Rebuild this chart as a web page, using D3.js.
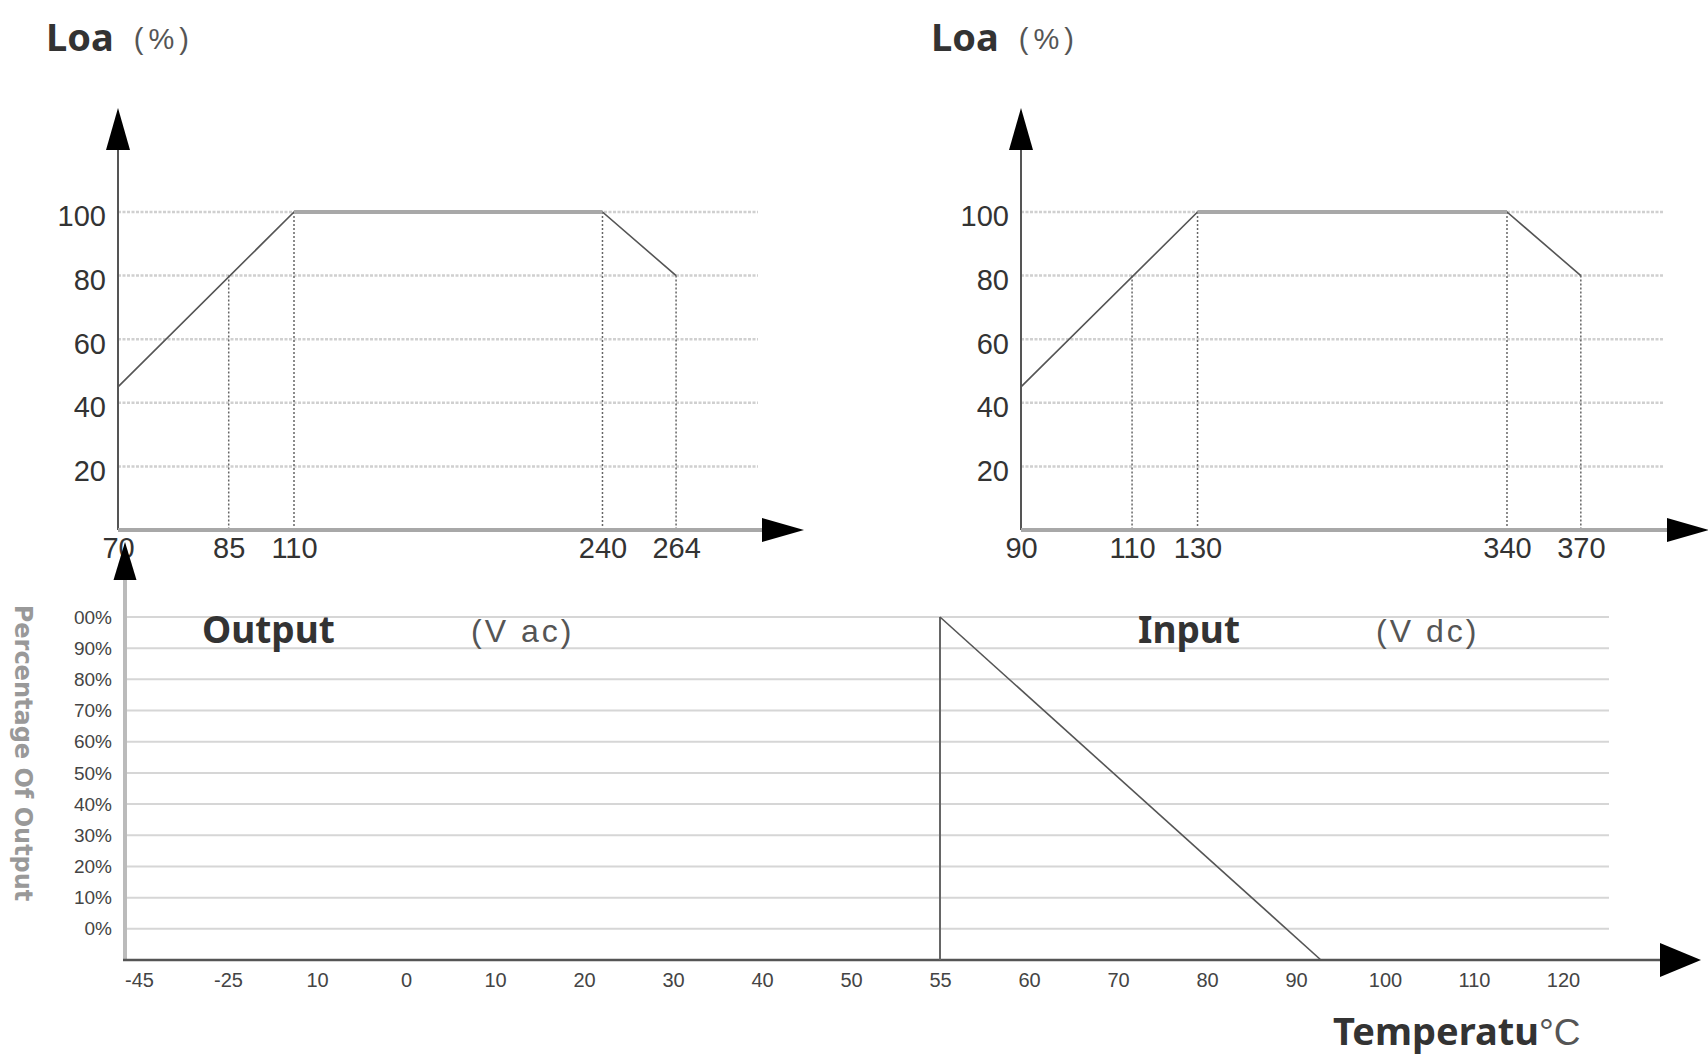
<!DOCTYPE html>
<html>
<head>
<meta charset="utf-8">
<script src="https://cdn.jsdelivr.net/npm/d3@7/dist/d3.min.js"></script>
<style>
  body { margin: 0; background: #fff; }
  .bold { font-family: "Noto Sans", sans-serif; font-weight: 700; fill: #333; }
  .thin { font-family: "Liberation Sans", Arial, sans-serif; fill: #555; }
</style>
</head>
<body>
<div id="chart"></div>
<script>
// load vs input voltage, AC
let acTicks = [70, 85, 110, 240, 264],
    acVolts = [70, 110, 240, 264],
    acLoad  = [45, 100, 100, 80],
    acMark  = [85, 80];

// load vs input voltage, DC
let dcTicks = [90, 110, 130, 340, 370],
    dcVolts = [90, 130, 340, 370],
    dcLoad  = [45, 100, 100, 80],
    dcMark  = [110, 80];

let loadTicks = [20, 40, 60, 80, 100];

// output vs temperature
let tempTicks  = [-45, -25, -10, 0, 10, 20, 30, 40, 50, 55, 60, 70, 80, 90, 100, 110, 120],
    tempLabels = ["-45", "-25", "10", "0", "10", "20", "30", "40", "50", "55", "60", "70", "80", "90", "100", "110", "120"],
    pctTicks   = [100, 90, 80, 70, 60, 50, 40, 30, 20, 10, 0],
    pctLabels  = ["00%", "90%", "80%", "70%", "60%", "50%", "40%", "30%", "20%", "10%", "0%"],
    deratingTemp = [55, 92.8],
    deratingPct  = [100, -10];

let width = 1708,
    height = 1060,
    tickPos = [0, .173, .275, .757, .872]; // schematic spacing of the voltage ticks

let svg = d3.select('#chart').append('svg')
  .attr('width', width)
  .attr('height', height);

function arrow(g, tip, dir, len, half) {
  let p = d3.path();
  if (dir === 'up') {
    p.moveTo(tip[0], tip[1]);
    p.lineTo(tip[0] - half, tip[1] + len);
    p.lineTo(tip[0] + half, tip[1] + len);
  } else {
    p.moveTo(tip[0], tip[1]);
    p.lineTo(tip[0] - len, tip[1] - half);
    p.lineTo(tip[0] - len, tip[1] + half);
  }
  p.closePath();
  g.append('path').attr('d', p.toString()).attr('fill', '#000');
}

function loadChart(x0, gridW, ticks, volts, load, mark, titleX) {
  let g = svg.append('g').attr('transform', 'translate(' + x0 + ',0)');

  let xScale = d3.scaleLinear()
    .domain(ticks)
    .range(tickPos.map(f => f * gridW));
  let yScale = d3.scaleLinear()
    .domain([0, 100])
    .range([530, 212]);

  // dotted grid
  g.selectAll('line.grid').data(loadTicks)
    .enter().append('line')
    .attr('class', 'grid')
    .attr('x1', 0).attr('x2', gridW)
    .attr('y1', d => yScale(d)).attr('y2', d => yScale(d))
    .attr('stroke', '#d0d0d0')
    .attr('stroke-width', 2.5)
    .attr('stroke-dasharray', '3,1.5');

  // drop lines
  let drops = [mark].concat(volts.slice(1).map((v, i) => [v, load[i + 1]]));
  g.selectAll('line.drop').data(drops)
    .enter().append('line')
    .attr('class', 'drop')
    .attr('x1', d => xScale(d[0])).attr('x2', d => xScale(d[0]))
    .attr('y1', d => yScale(d[1])).attr('y2', yScale(0))
    .attr('stroke', '#666')
    .attr('stroke-width', 1.5)
    .attr('stroke-dasharray', '2,2');

  // axes
  g.append('line')
    .attr('x1', 0).attr('x2', 0).attr('y1', yScale(0)).attr('y2', 150)
    .attr('stroke', '#555').attr('stroke-width', 2);
  g.append('line')
    .attr('x1', 0).attr('x2', gridW + 6).attr('y1', yScale(0)).attr('y2', yScale(0))
    .attr('stroke', '#a8a8a8').attr('stroke-width', 4);
  arrow(g, [0, 108], 'up', 42, 12);
  arrow(g, [gridW + 46, yScale(0)], 'right', 42, 12);

  // load curve
  let pts = volts.map((v, i) => [v, load[i]]);
  g.append('path')
    .attr('d', d3.line().x(d => xScale(d[0])).y(d => yScale(d[1]))(pts))
    .attr('fill', 'none')
    .attr('stroke', '#555')
    .attr('stroke-width', 1.6);
  let flat = pts.filter(d => d[1] === 100);
  g.append('path')
    .attr('d', d3.line().x(d => xScale(d[0])).y(d => yScale(d[1]))(flat))
    .attr('fill', 'none')
    .attr('stroke', '#a8a8a8')
    .attr('stroke-width', 4);

  // tick labels
  let yAxis = g.append('g')
    .call(d3.axisLeft(yScale).tickValues(loadTicks).tickSize(0).tickPadding(12));
  yAxis.select('.domain').remove();
  yAxis.attr('font-size', 29).attr('font-family', '"Liberation Sans", Arial, sans-serif');
  yAxis.selectAll('text').attr('fill', '#333').attr('dy', '0.48em');

  let xAxis = g.append('g')
    .attr('transform', 'translate(0,' + yScale(0) + ')')
    .call(d3.axisBottom(xScale).tickValues(ticks).tickFormat(d3.format('d')).tickSize(0).tickPadding(7));
  xAxis.select('.domain').remove();
  xAxis.attr('font-size', 29).attr('font-family', '"Liberation Sans", Arial, sans-serif');
  xAxis.selectAll('text').attr('fill', '#333');

  // title
  let t = svg.append('text').attr('x', titleX).attr('y', 51);
  t.append('tspan').attr('class', 'bold').attr('font-size', 38).text('Loa');
  t.append('tspan').attr('class', 'thin').attr('font-size', 29)
    .attr('dx', 20).attr('dy', -2).attr('letter-spacing', 5).text('(%)');
}

loadChart(118, 640, acTicks, acVolts, acLoad, acMark, 46);
loadChart(1021, 642, dcTicks, dcVolts, dcLoad, dcMark, 931);

// ---- temperature derating ----
let tx = d3.scaleLinear()
  .domain(tempTicks)
  .range(tempTicks.map((d, i) => 139 + i * 89));
let ty = d3.scaleLinear()
  .domain([-10, 100])
  .range([960, 617]);

let b = svg.append('g');

b.selectAll('line.pgrid').data(pctTicks)
  .enter().append('line')
  .attr('class', 'pgrid')
  .attr('x1', 125).attr('x2', 1609)
  .attr('y1', d => ty(d)).attr('y2', d => ty(d))
  .attr('stroke', '#d6d6d6')
  .attr('stroke-width', 2);

b.append('line')
  .attr('x1', 125).attr('x2', 125).attr('y1', ty(-10)).attr('y2', 578)
  .attr('stroke', '#bbb').attr('stroke-width', 4);
b.append('line')
  .attr('x1', 123).attr('x2', 1662).attr('y1', ty(-10)).attr('y2', ty(-10))
  .attr('stroke', '#555').attr('stroke-width', 2.5);
arrow(b, [125, 542], 'up', 38, 11.5);
arrow(b, [1701, ty(-10)], 'right', 41, 17);

// derating curve
b.append('line')
  .attr('x1', tx(deratingTemp[0])).attr('x2', tx(deratingTemp[0]))
  .attr('y1', ty(deratingPct[0])).attr('y2', ty(-10))
  .attr('stroke', '#666').attr('stroke-width', 2);
b.append('path')
  .attr('d', d3.line().x(d => tx(d[0])).y(d => ty(d[1]))(deratingTemp.map((t, i) => [t, deratingPct[i]])))
  .attr('fill', 'none')
  .attr('stroke', '#555')
  .attr('stroke-width', 1.6);

let pAxis = b.append('g')
  .attr('transform', 'translate(125,0)')
  .call(d3.axisLeft(ty).tickValues(pctTicks).tickFormat((d, i) => pctLabels[i]).tickSize(0).tickPadding(13));
pAxis.select('.domain').remove();
pAxis.attr('font-size', 19).attr('font-family', '"Liberation Sans", Arial, sans-serif');
pAxis.selectAll('text').attr('fill', '#444');

let tAxis = b.append('g')
  .attr('transform', 'translate(0,' + ty(-10) + ')')
  .call(d3.axisBottom(tx).tickValues(tempTicks).tickFormat((d, i) => tempLabels[i]).tickSize(0).tickPadding(13));
tAxis.select('.domain').remove();
tAxis.attr('font-size', 20).attr('font-family', '"Liberation Sans", Arial, sans-serif');
tAxis.selectAll('text').attr('fill', '#444');

svg.append('text')
  .attr('transform', 'translate(23,753) rotate(90)')
  .attr('dy', '0.35em')
  .attr('text-anchor', 'middle')
  .attr('font-family', '"DejaVu Sans", sans-serif')
  .attr('font-weight', 700)
  .attr('font-size', 24)
  .attr('fill', '#999')
  .text('Percentage Of Output');

// voltage captions
svg.append('text').attr('class', 'bold').attr('x', 202).attr('y', 643).attr('font-size', 37).text('Output');
svg.append('text').attr('class', 'thin').attr('x', 471).attr('y', 642).attr('font-size', 32).attr('letter-spacing', 3).text('(V  ac)');
svg.append('text').attr('class', 'bold').attr('x', 1138).attr('y', 643).attr('font-size', 37).text('Input');
svg.append('text').attr('class', 'thin').attr('x', 1376).attr('y', 642).attr('font-size', 32).attr('letter-spacing', 3).text('(V  dc)');

let tt = svg.append('text').attr('x', 1333).attr('y', 1045);
tt.append('tspan').attr('class', 'bold').attr('font-size', 38).text('Temperatu');
tt.append('tspan').attr('class', 'thin').attr('font-size', 37).attr('fill', '#333').text('°C');
</script>
</body>
</html>
